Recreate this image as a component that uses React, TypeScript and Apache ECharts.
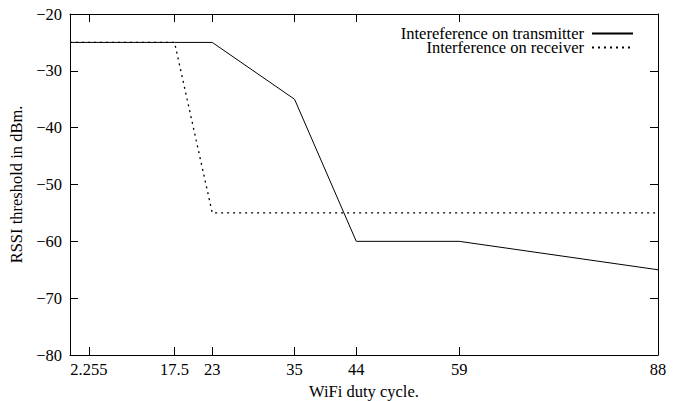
import React, { useEffect, useRef } from "react";
import * as echarts from "echarts";

const dutyCycle = [2.255, 17.5, 23, 35, 44, 59, 88];
const transmitter = [-25, -25, -25, -35, -60, -60, -65];
const receiver = [-25, -25, -55, -55, -55, -55, -55];
const xTickValues = [5, 17.5, 23, 35, 44, 59, 88];
const xTickLabels = ["2.255", "17.5", "23", "35", "44", "59", "88"];
const seriesNames = ["Intereference on transmitter", "Interference on receiver"];

const FONT = "Liberation Serif, Times New Roman, DejaVu Serif, serif";

export default function App() {
  const ref = useRef<HTMLDivElement>(null);
  useEffect(() => {
    if (!ref.current) return;
    const chart = echarts.init(ref.current, undefined, { renderer: "svg" });
    const txt = { color: "#000", fontFamily: FONT, fontSize: 16.5 };
    const xLabel = (v: number) => {
      const i = xTickValues.findIndex((t) => Math.abs(t - v) < 1e-6);
      return i >= 0 ? xTickLabels[i] : "";
    };
    const axisLine = { show: true, onZero: false, lineStyle: { color: "#000", width: 1 } };
    const tick = { show: true, inside: true, length: 8, lineStyle: { color: "#000", width: 1 } };
    const legendBase = {
      right: 38,
      align: "right",
      itemWidth: 41,
      itemHeight: 14,
      itemStyle: { opacity: 0 },
      textStyle: { ...txt, padding: [0, 3, 0, 0] },
      selectedMode: false,
    };
    chart.setOption({
      animation: false,
      backgroundColor: "#fff",
      textStyle: { fontFamily: FONT },
      grid: { left: 70, top: 14, right: 19, bottom: 46, containLabel: false, outerBoundsMode: "none" },
      legend: [
        { ...legendBase, data: [seriesNames[0]], top: 20 },
        { ...legendBase, data: [seriesNames[1]], top: 34 },
      ],
      xAxis: [
        {
          type: "value",
          position: "bottom",
          min: dutyCycle[0],
          max: dutyCycle[dutyCycle.length - 1],
          name: "WiFi duty cycle.",
          nameLocation: "middle",
          nameGap: 28,
          nameTextStyle: txt,
          axisLine,
          axisTick: { ...tick, customValues: xTickValues },
          axisLabel: { ...txt, margin: 6, customValues: xTickValues, formatter: xLabel },
          splitLine: { show: false },
        },
        {
          type: "value",
          position: "top",
          min: dutyCycle[0],
          max: dutyCycle[dutyCycle.length - 1],
          axisLine,
          axisTick: { ...tick, customValues: xTickValues },
          axisLabel: { show: false, customValues: xTickValues },
          splitLine: { show: false },
        },
      ],
      yAxis: [
        {
          type: "value",
          position: "left",
          min: -80,
          max: -20,
          interval: 10,
          name: "RSSI threshold in dBm.",
          nameLocation: "middle",
          nameGap: 44,
          nameTextStyle: txt,
          axisLine,
          axisTick: tick,
          axisLabel: { ...txt, margin: 8, formatter: (v: number) => String(v).replace("-", "\u2212") },
          splitLine: { show: false },
        },
        {
          type: "value",
          position: "right",
          min: -80,
          max: -20,
          interval: 10,
          axisLine,
          axisTick: tick,
          axisLabel: { show: false },
          splitLine: { show: false },
        },
      ],
      series: [
        {
          name: seriesNames[0],
          type: "line",
          symbol: "none",
          data: dutyCycle.map((x, i) => [x, transmitter[i]]),
          lineStyle: { color: "#000", width: 1, type: "solid" },
          itemStyle: { color: "#000" },
        },
        {
          name: seriesNames[1],
          type: "line",
          symbol: "none",
          data: dutyCycle.map((x, i) => [x, receiver[i]]),
          lineStyle: { color: "#000", width: 1.3, type: [2, 4] },
          itemStyle: { color: "#000" },
        },
      ],
    });
    return () => chart.dispose();
  }, []);
  return (
    <div
      ref={ref}
      style={{ position: "fixed", left: 0, top: 0, width: 677, height: 401, background: "#fff" }}
    />
  );
}
